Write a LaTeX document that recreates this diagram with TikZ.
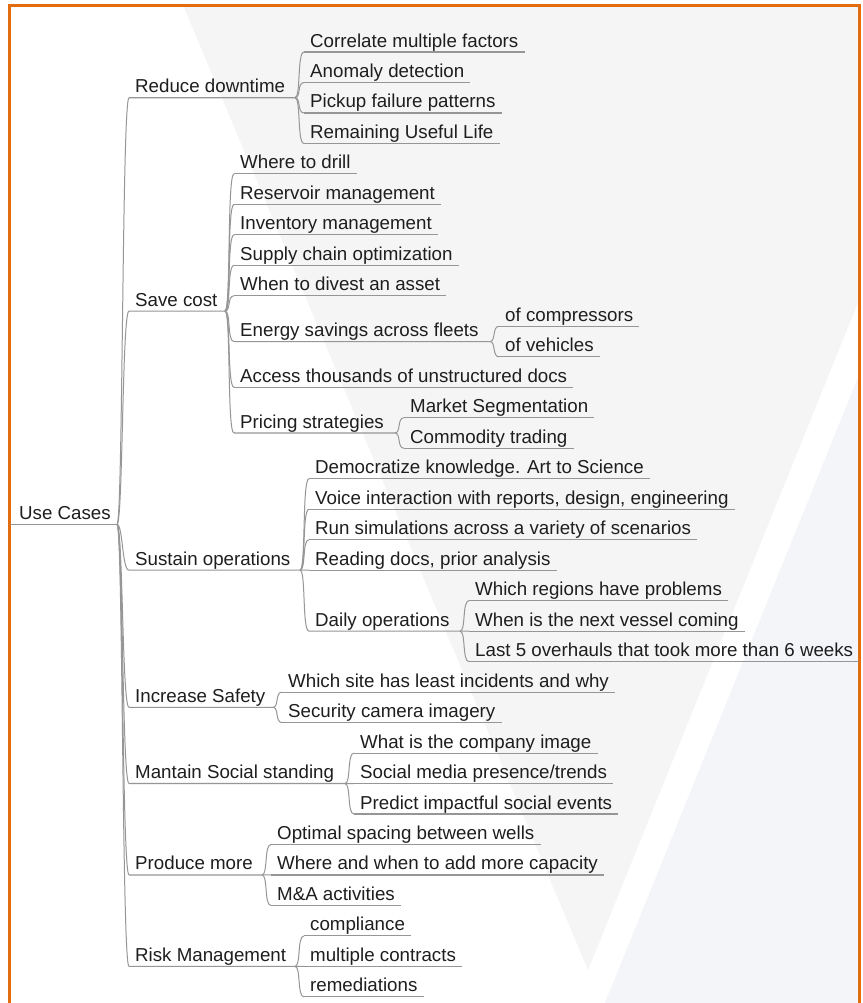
\documentclass[tikz,border=0pt]{standalone}
\usepackage{fontspec}
\setmainfont{Liberation Sans}
\definecolor{frameorange}{RGB}{226,108,14}
\definecolor{linec}{RGB}{150,150,150}
\definecolor{textc}{RGB}{30,30,30}
\definecolor{vgrey}{RGB}{245,245,245}
\definecolor{vblue}{RGB}{243,245,248}
\tikzset{
  lbl/.style={anchor=base west, inner xsep=6bp, inner ysep=2bp, text=textc,
    font=\fontsize{18.8pt}{22pt}\selectfont},
  uline/.style={draw=linec, line width=1.1bp},
  conn/.style={draw=linec, line width=1bp},
  frame/.style={draw=frameorange, line width=3bp}
}
\begin{document}
\begin{tikzpicture}[x=1bp,y=-1bp,
  declare function={ru(\i)=52+30.48*(\i-1); rb(\i)=ru(\i)-5;}]
\useasboundingbox (0,0) rectangle (863,1003);
% background
\fill[white] (0,0) rectangle (863,1003);
\fill[vgrey] (183,5) -- (859,5) -- (859,300) -- (588,970) -- cycle;
\fill[vblue] (859,375) -- (859,1003) -- (605,1003) -- cycle;
\draw[frame] (9,1003) -- (9,5) -- (859,5) -- (859,1003);

% root
\node[lbl] (uc) at (13,{(rb(1)+rb(32))/2}) {Use Cases};
\coordinate (uc-s) at (10,{(ru(1)+ru(32))/2});
\coordinate (uc-e) at (117,{(ru(1)+ru(32))/2});

% level 1
\node[lbl] (rd) at (129,{(rb(1)+rb(4))/2}) {Reduce downtime};
\coordinate (rd-e) at (295,{(ru(1)+ru(4))/2});
\node[lbl] (sc) at (129,{(rb(5)+rb(14))/2}) {Save cost};
\coordinate (sc-e) at (225,{(ru(5)+ru(14))/2});
\node[lbl] (so) at (129,{rb(18)}) {Sustain operations};
\coordinate (so-e) at (300,{ru(18)});
\node[lbl] (is) at (129,{(rb(22)+rb(23))/2}) {Increase Safety};
\coordinate (is-e) at (273,{(ru(22)+ru(23))/2});
\node[lbl] (ms) at (129,{rb(25)}) {Mantain Social standing};
\coordinate (ms-e) at (345,{ru(25)});
\node[lbl] (pm) at (129,{rb(28)}) {Produce more};
\coordinate (pm-e) at (262,{ru(28)});
\node[lbl] (rm) at (129,{rb(31)}) {Risk Management};
\coordinate (rm-e) at (295,{ru(31)});

% Reduce downtime
\node[lbl] (r1) at (304,{rb(1)}) {Correlate multiple factors};
\node[lbl] (r2) at (304,{rb(2)}) {Anomaly detection};
\node[lbl] (r3) at (304,{rb(3)}) {Pickup failure patterns};
\node[lbl] (r4) at (304,{rb(4)}) {Remaining Useful Life};

% Save cost
\node[lbl] (s1) at (234,{rb(5)}) {Where to drill};
\node[lbl] (s2) at (234,{rb(6)}) {Reservoir management};
\node[lbl] (s3) at (234,{rb(7)}) {Inventory management};
\node[lbl] (s4) at (234,{rb(8)}) {Supply chain optimization};
\node[lbl] (s5) at (234,{rb(9)}) {When to divest an asset};
\node[lbl] (es) at (234,{(rb(10)+rb(11))/2}) {Energy savings across fleets};
\coordinate (es-e) at (490,{(ru(10)+ru(11))/2});
\node[lbl] (s7) at (234,{rb(12)}) {Access thousands of unstructured docs};
\node[lbl] (ps) at (234,{(rb(13)+rb(14))/2}) {Pricing strategies};
\coordinate (ps-e) at (395,{(ru(13)+ru(14))/2});
\node[lbl] (e1) at (499,{rb(10)}) {of compressors};
\node[lbl] (e2) at (499,{rb(11)}) {of vehicles};
\node[lbl] (p1) at (404,{rb(13)}) {Market Segmentation};
\node[lbl] (p2) at (404,{rb(14)}) {Commodity trading};

% Sustain operations
\node[lbl] (o1) at (309,{rb(15)}) {Democratize knowledge. Art to Science};
\node[lbl] (o2) at (309,{rb(16)}) {Voice interaction with reports, design, engineering};
\node[lbl] (o3) at (309,{rb(17)}) {Run simulations across a variety of scenarios};
\node[lbl] (o4) at (309,{rb(18)}) {Reading docs, prior analysis};
\node[lbl] (dop) at (309,{rb(20)}) {Daily operations};
\coordinate (dop-e) at (460,{ru(20)});
\node[lbl] (d1) at (469,{rb(19)}) {Which regions have problems};
\node[lbl] (d2) at (469,{rb(20)}) {When is the next vessel coming};
\node[lbl] (d3) at (469,{rb(21)}) {Last 5 overhauls that took more than 6 weeks};

% Increase Safety
\node[lbl] (i1) at (282,{rb(22)}) {Which site has least incidents and why};
\node[lbl] (i2) at (282,{rb(23)}) {Security camera imagery};

% Mantain Social standing
\node[lbl] (m1) at (354,{rb(24)}) {What is the company image};
\node[lbl] (m2) at (354,{rb(25)}) {Social media presence/trends};
\node[lbl] (m3) at (354,{rb(26)}) {Predict impactful social events};

% Produce more
\node[lbl] (q1) at (271,{rb(27)}) {Optimal spacing between wells};
\node[lbl] (q2) at (271,{rb(28)}) {Where and when to add more capacity};
\node[lbl] (q3) at (271,{rb(29)}) {M\&A activities};

% Risk Management
\node[lbl] (k1) at (304,{rb(30)}) {compliance};
\node[lbl] (k2) at (304,{rb(31)}) {multiple contracts};
\node[lbl] (k3) at (304,{rb(32)}) {remediations};

% underlines
\draw[uline] (uc-s) -- (uc-e);
\foreach \n in {rd,sc,so,is,ms,pm,rm,es,ps,dop}
  \draw[uline] ([yshift=-5bp]\n.base west) -- (\n-e);
\foreach \n in {r1,r2,r3,r4,s1,s2,s3,s4,s5,s7,e1,e2,p1,p2,o1,o2,o3,o4,d1,d2,d3,i1,i2,m1,m2,m3,q1,q2,q3,k1,k2,k3}
  \draw[uline] ([yshift=-5bp]\n.base west) -- ([yshift=-5bp]\n.base east);

% connectors
\foreach \p/\c in {uc/rd,uc/sc,uc/so,uc/is,uc/ms,uc/pm,uc/rm,
  rd/r1,rd/r2,rd/r3,rd/r4,
  sc/s1,sc/s2,sc/s3,sc/s4,sc/s5,sc/es,sc/s7,sc/ps,
  es/e1,es/e2,ps/p1,ps/p2,
  so/o1,so/o2,so/o3,so/o4,so/dop,
  dop/d1,dop/d2,dop/d3,
  is/i1,is/i2,ms/m1,ms/m2,ms/m3,pm/q1,pm/q2,pm/q3,rm/k1,rm/k2,rm/k3}
  \draw[conn] (\p-e) .. controls +(6,0) and +(-7,0) .. ([yshift=-5bp]\c.base west);
\end{tikzpicture}
\end{document}
